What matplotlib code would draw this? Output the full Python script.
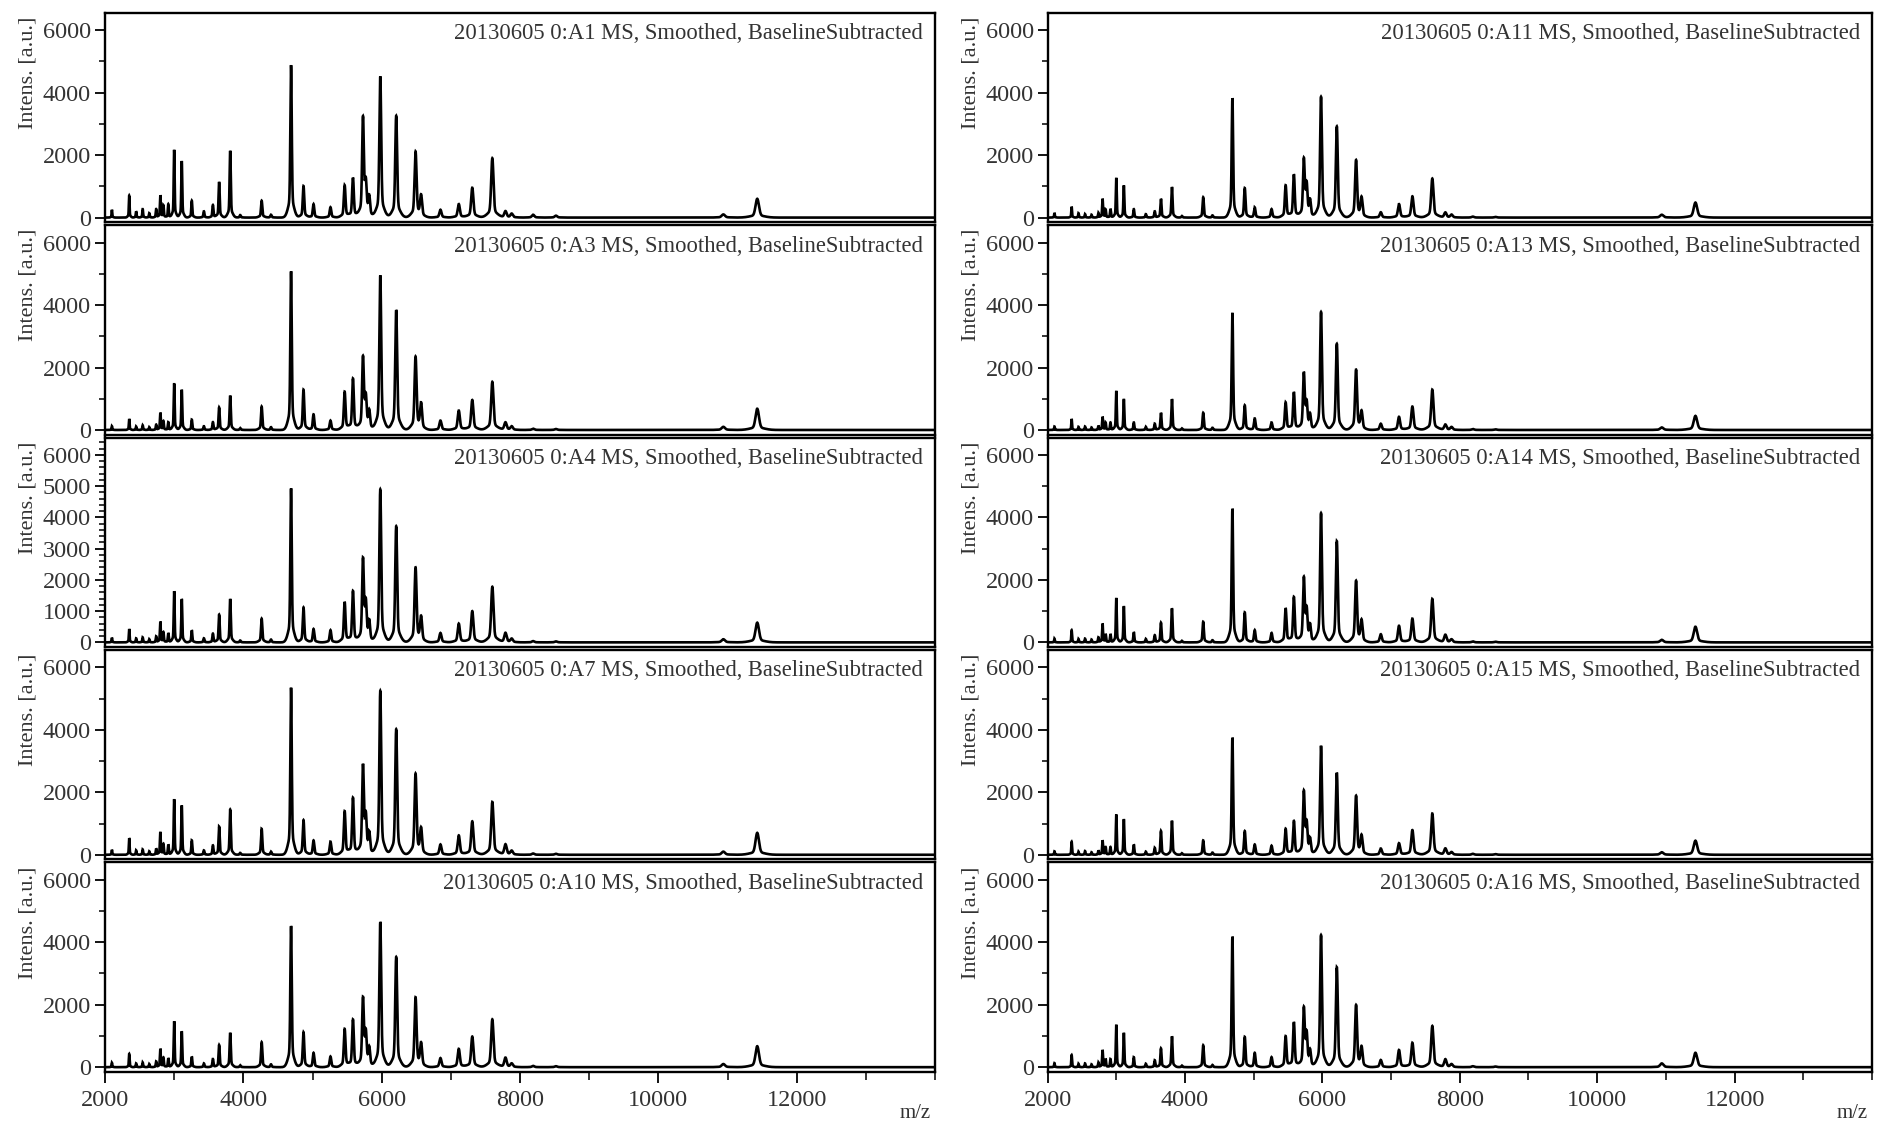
import numpy as np
import matplotlib
matplotlib.use("Agg")
import matplotlib.pyplot as plt
from matplotlib.ticker import MultipleLocator

plt.rcParams['font.family'] = ['Liberation Serif', 'DejaVu Serif']

# ---------------- data ----------------
peak_mz = [2100, 2350, 2450, 2545, 2640, 2740, 2800, 2845, 2915, 3000,
           3110, 3255, 3430, 3560, 3650, 3810, 3955, 4265, 4400, 4690,
           4870, 5015, 5260, 5465, 5585, 5730, 5770, 5820, 5980, 6210,
           6490, 6570, 6850, 7115, 7310, 7600, 7790, 7880, 8190, 8520,
           10940, 11430]

spectrum_names = ["A1", "A3", "A4", "A7", "A10",
                  "A11", "A13", "A14", "A15", "A16"]

h_A1 = [250, 705, 200, 270, 140, 270, 705, 380, 430, 2170,
        1810, 540, 200, 400, 1140, 2140, 80, 540, 90, 4880,
        1010, 430, 330, 1030, 1270, 3150, 980, 600, 4520, 3260,
        2090, 660, 250, 430, 955, 1900, 200, 120, 90, 60,
        100, 600]
h_A3 = [120, 355, 110, 150, 90, 170, 550, 280, 250, 1490,
        1290, 330, 120, 250, 720, 1100, 60, 750, 90, 5080,
        1290, 500, 300, 1220, 1640, 2280, 960, 550, 4950, 3840,
        2320, 790, 300, 620, 960, 1540, 240, 110, 40, 30,
        100, 680]
h_A4 = [150, 430, 130, 160, 100, 190, 660, 320, 300, 1640,
        1390, 390, 130, 280, 890, 1390, 60, 760, 90, 4930,
        1120, 430, 390, 1290, 1640, 2600, 1160, 600, 4900, 3720,
        2370, 760, 300, 600, 1000, 1780, 300, 110, 40, 30,
        100, 630]
h_A7 = [160, 530, 140, 170, 110, 200, 720, 340, 330, 1780,
        1580, 460, 140, 300, 900, 1450, 60, 830, 100, 5350,
        1110, 460, 420, 1390, 1820, 2800, 1110, 620, 5250, 4020,
        2570, 780, 330, 620, 1070, 1690, 330, 120, 40, 30,
        100, 700]
h_A10 = [140, 425, 120, 150, 100, 180, 585, 300, 290, 1470,
         1150, 340, 120, 260, 710, 1100, 60, 800, 90, 4520,
         1120, 460, 340, 1220, 1520, 2150, 1010, 560, 4650, 3530,
         2210, 710, 290, 585, 980, 1530, 300, 110, 40, 30,
         100, 670]
h_A11 = [150, 350, 140, 110, 90, 150, 600, 250, 280, 1270,
         1030, 270, 110, 200, 600, 980, 50, 650, 70, 3820,
         945, 325, 270, 1030, 1380, 1820, 980, 500, 3870, 2920,
         1820, 600, 170, 430, 680, 1250, 160, 90, 30, 20,
         90, 480]
h_A13 = [110, 355, 100, 110, 80, 140, 420, 230, 240, 1250,
         990, 240, 100, 200, 550, 990, 50, 550, 70, 3750,
         790, 370, 240, 880, 1210, 1780, 790, 450, 3780, 2760,
         1910, 550, 200, 420, 750, 1290, 170, 90, 30, 20,
         80, 450]
h_A14 = [120, 390, 110, 120, 90, 160, 600, 260, 270, 1420,
         1160, 330, 110, 230, 630, 1090, 50, 660, 70, 4280,
         960, 390, 300, 1090, 1450, 2010, 960, 500, 4140, 3240,
         1950, 660, 260, 530, 760, 1390, 240, 90, 30, 20,
         80, 500]
h_A15 = [110, 420, 100, 120, 80, 140, 460, 240, 250, 1290,
         1140, 330, 100, 220, 760, 1090, 50, 460, 70, 3750,
         760, 330, 290, 830, 1080, 1970, 920, 450, 3490, 2630,
         1870, 570, 200, 370, 790, 1320, 200, 80, 30, 20,
         80, 450]
h_A16 = [130, 390, 110, 120, 90, 150, 550, 260, 260, 1360,
         1100, 320, 110, 220, 600, 990, 50, 700, 70, 4180,
         970, 460, 320, 990, 1440, 1840, 990, 480, 4230, 3200,
         1970, 600, 230, 550, 780, 1320, 250, 90, 30, 20,
         120, 460]

heights = [h_A1, h_A3, h_A4, h_A7, h_A10, h_A11, h_A13, h_A14, h_A15, h_A16]

x_ticks_major = [2000, 4000, 6000, 8000, 10000, 12000]
y_ticks_major = [0, 2000, 4000, 6000]
y_ticks_A4 = [0, 1000, 2000, 3000, 4000, 5000, 6000]

# ---------------- drawing ----------------
W, H = 1877, 1124
fig = plt.figure(figsize=(W / 100, H / 100), dpi=100)

col_left = [105.0, 1047.6]
col_width = [830.0, 824.4]
panel_top0 = 12.7
panel_pitch = 212.4
panel_h = 209.4

mz = np.linspace(2000, 14000, 36001)
pk = np.array(peak_mz, dtype=float)

text_col = '#333333'

for idx, (name, hv) in enumerate(zip(spectrum_names, heights)):
    col = idx // 5
    row = idx % 5
    top = panel_top0 + row * panel_pitch
    ax = fig.add_axes([col_left[col] / W, 1 - (top + panel_h) / H,
                       col_width[col] / W, panel_h / H])
    hv = np.array(hv, dtype=float)
    sig = pk * 0.0021
    sig_b = pk * 0.0085
    y = np.zeros_like(mz)
    for m, h, s, sb in zip(pk, hv, sig, sig_b):
        y += 0.88 * h * np.exp(-0.5 * ((mz - m) / s) ** 2)
        y += 0.12 * h * np.exp(-0.5 * ((mz - m) / sb) ** 2)
    ax.plot(mz, y, color='black', lw=1.9, solid_joinstyle='miter')
    ax.set_xlim(2000, 14000)
    ax.set_ylim(-145, 6560)

    for sp in ax.spines.values():
        sp.set_linewidth(1.7)
        sp.set_color('black')

    if name == "A4":
        ax.set_yticks(y_ticks_A4)
        ax.yaxis.set_minor_locator(MultipleLocator(200))
    else:
        ax.set_yticks(y_ticks_major)
        ax.yaxis.set_minor_locator(MultipleLocator(1000))
    ax.tick_params(axis='y', which='major', direction='out', length=7,
                   width=1.3, labelsize=17.5, labelcolor=text_col, pad=3,
                   right=False)
    ax.tick_params(axis='y', which='minor', direction='out', length=4,
                   width=1.1, right=False)

    ax.set_xticks(x_ticks_major)
    ax.xaxis.set_minor_locator(MultipleLocator(1000))
    if row == 4:
        ax.tick_params(axis='x', which='major', direction='out', length=8,
                       width=1.3, labelsize=17.5, labelcolor=text_col, pad=5,
                       top=False)
        ax.tick_params(axis='x', which='minor', direction='out', length=6,
                       width=1.1, top=False)
    else:
        ax.tick_params(axis='x', which='both', length=0, labelbottom=False,
                       top=False)

    ax.text(1 - 12 / col_width[col], 1 - 21 / panel_h,
            f"20130605 0:{name} MS, Smoothed, BaselineSubtracted",
            transform=ax.transAxes, ha='right', va='center',
            fontsize=16.3, color=text_col)
    ax.annotate("Intens. [a.u.]", xy=(0, 1), xycoords='axes fraction',
                xytext=(-77, -4), textcoords='offset pixels', rotation=90,
                ha='center', va='top', fontsize=16, color=text_col)

    if row == 4:
        ax.annotate("m/z", xy=(1, 0), xycoords='axes fraction',
                    xytext=(-4, -42), textcoords='offset pixels',
                    ha='right', va='center', fontsize=15, color=text_col)

fig.savefig("out.png", dpi=100)
